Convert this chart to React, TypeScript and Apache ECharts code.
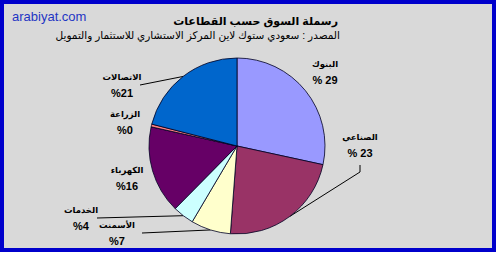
import React, { useEffect, useRef } from "react";
import * as echarts from "echarts";

const sectors = ["البنوك", "الصناعي", "الأسمنت", "الخدمات", "الكهرباء", "الزراعة", "الاتصالات"];
const shares = [28.4, 22.8, 7.3, 3.9, 16.1, 0.5, 21.0];
const shareLabels = ["% 29", "% 23", "%7", "%4", "%16", "%0", "%21"];
const colors = ["#9999ff", "#993366", "#ffffcc", "#ccffff", "#660066", "#ff8080", "#0066cc"];

// label layout (centre of two-line label block) and optional leader line end points
const labelPos: number[][] = [
  [325, 72],
  [360, 145],
  [117, 233],
  [81, 218],
  [127, 178],
  [125, 122],
  [122, 85],
];
const leader: (number[][] | null)[] = [
  null,
  [[360, 172], [360, 165]],
  [[142, 233], [142, 233]],
  [[97, 218], [97, 218]],
  null,
  null,
  [[140, 85], [140, 85]],
];

const FONT = 'Arial, "Liberation Sans", "DejaVu Sans", sans-serif';

export default function App() {
  const ref = useRef<HTMLDivElement>(null);
  useEffect(() => {
    const chart = echarts.init(ref.current!, undefined, { renderer: "svg" });
    chart.setOption({
      animation: false,
      backgroundColor: "#ffffff",
      graphic: [
        {
          type: "rect",
          shape: { x: 2, y: 2, width: 492, height: 248 },
          style: { fill: "#d9d9d9", stroke: "#0000cc", lineWidth: 4 },
          z: -10,
        },
        {
          type: "text",
          x: 12,
          y: 16,
          style: { text: "arabiyat.com", fill: "#1f35c4", font: `13px ${FONT}`, textVerticalAlign: "middle" },
        },
        {
          type: "text",
          x: 338,
          y: 21,
          style: {
            text: "رسملة السوق حسب القطاعات",
            fill: "#000",
            font: `bold 11px ${FONT}`,
            textAlign: "right",
            textVerticalAlign: "middle",
          },
        },
        {
          type: "text",
          x: 340,
          y: 35,
          style: {
            text: "المصدر : سعودي ستوك لاين المركز الاستشاري للاستثمار والتمويل",
            fill: "#000",
            font: `10.5px ${FONT}`,
            textAlign: "right",
            textVerticalAlign: "middle",
          },
        },
      ],
      series: [
        {
          type: "pie",
          center: [237, 146],
          radius: [0, 88],
          startAngle: 90,
          clockwise: true,
          avoidLabelOverlap: false,
          minAngle: 0,
          itemStyle: { borderColor: "#000022", borderWidth: 0.8 },
          emphasis: { disabled: true },
          label: {
            show: true,
            position: "outside",
            color: "#000",
            fontFamily: FONT,
            fontWeight: "bold",
            fontSize: 10,
            lineHeight: 16,
            align: "center",
            formatter: (p: any) => `{n|${p.name}}\n{p|${shareLabels[p.dataIndex]}}`,
            rich: {
              n: { fontFamily: FONT, fontWeight: "bold", fontSize: 8.5, lineHeight: 16, color: "#000" },
              p: { fontFamily: FONT, fontWeight: "bold", fontSize: 11, lineHeight: 16, color: "#000" },
            },
          },
          labelLine: { show: true, lineStyle: { color: "#000", width: 1 }, length: 5, length2: 5 },
          labelLayout: (params: any) => {
            const i = params.dataIndex;
            const pos = labelPos[i];
            const res: any = { x: pos[0], y: pos[1], align: "center", verticalAlign: "middle" };
            const l = leader[i];
            if (l && params.labelLinePoints) {
              res.labelLinePoints = [params.labelLinePoints[0], l[0], l[1]];
            }
            return res;
          },
          data: sectors.map((name, i) => ({
            name,
            value: shares[i],
            itemStyle: { color: colors[i] },
            labelLine: { show: leader[i] !== null },
          })),
        },
      ],
    });
    return () => chart.dispose();
  }, []);
  return <div ref={ref} style={{ position: "fixed", left: 0, top: 0, width: 503, height: 258 }} />;
}
